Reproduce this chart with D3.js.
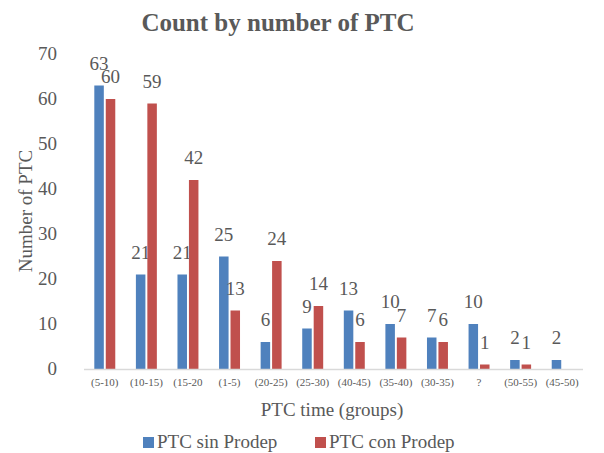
<!DOCTYPE html>
<html><head><meta charset="utf-8"><script src="https://cdn.jsdelivr.net/npm/d3@7"></script></head>
<body style="margin:0">
<script>
const categories = ["(5-10)", "(10-15)", "(15-20", "(1-5)", "(20-25)", "(25-30)", "(40-45)", "(35-40)", "(30-35)", "?", "(50-55)", "(45-50)"];
const seriesNames = ["PTC sin Prodep", "PTC con Prodep"];
const sinProdep = [63, 21, 21, 25, 6, 9, 13, 10, 7, 10, 2, 2];
const conProdep = [60, 59, 42, 13, 24, 14, 6, 7, 6, 1, 1, null];
const yTicks = [0, 10, 20, 30, 40, 50, 60, 70];
const colors = ["#4F81BD", "#C0504D"];

const w = 604;
const h = 453;

const svg = d3.select("body").append("svg").attr("width", w).attr("height", h);

const xScale = d3.scaleBand()
  .domain(categories)
  .range([84, 583]);

const xSub = d3.scaleBand()
  .domain(seriesNames)
  .range([0, xScale.bandwidth()])
  .paddingInner(0.17)
  .paddingOuter(0.9);

const yScale = d3.scaleLinear()
  .domain([0, 70])
  .range([369, 54]);

// every label goes through here so font and colour stay the same
function label(parent, size, x, y, str, anchor) {
  return parent.append("text")
    .attr("x", x)
    .attr("y", y)
    .attr("text-anchor", anchor || "middle")
    .attr("font-size", size)
    .attr("font-family", "Liberation Serif")
    .attr("fill", "#595959")
    .text(str);
}

label(svg, 25, 278, 31, "Count by number of PTC").attr("font-weight", "bold");

yTicks.forEach(t => label(svg, 19, 57, yScale(t) + 6, t, "end"));

label(svg, 19, 0, 0, "Number of PTC").attr("transform", "translate(32,211) rotate(-90)");

// bars + value labels
categories.forEach((c, ci) => {
  const g = svg.append("g").attr("transform", "translate(" + xScale(c) + ",0)");
  [sinProdep[ci], conProdep[ci]].forEach((v, i) => {
    if (v == null) return;
    const bx = xSub(seriesNames[i]);
    g.append("rect")
      .attr("x", bx)
      .attr("y", yScale(v))
      .attr("width", xSub.bandwidth())
      .attr("height", yScale(0) - yScale(v))
      .attr("fill", colors[i]);
    label(g, 19, bx + xSub.bandwidth() / 2, yScale(v) - 16, v);
  });
});

svg.append("line")
  .attr("x1", 84)
  .attr("x2", 583)
  .attr("y1", 369.5)
  .attr("y2", 369.5)
  .attr("stroke", "#d9d9d9")
  .attr("stroke-width", 1.5);

categories.forEach(c => label(svg, 11, xScale(c) + xScale.bandwidth() / 2, 386, c));

label(svg, 19, 332, 416, "PTC time (groups)");

// legend
const legendX = [143, 315];
seriesNames.forEach((s, i) => {
  svg.append("rect")
    .attr("x", legendX[i])
    .attr("y", 437)
    .attr("width", 11)
    .attr("height", 11)
    .attr("fill", colors[i]);
  label(svg, 19, legendX[i] + 14, 448, s, "start");
});
</script>
</body></html>
